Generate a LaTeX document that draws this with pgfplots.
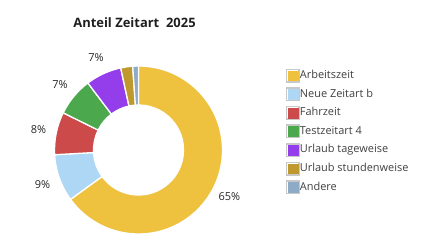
\documentclass[border=0pt]{standalone}
\usepackage{fontspec}
\setmainfont{Open Sans}
\usepackage{pgfplots}
\usepackage{pgfplotstable}
\pgfplotsset{compat=1.18}

\definecolor{c0}{HTML}{EEC13F}
\definecolor{c1}{HTML}{AED6F5}
\definecolor{c2}{HTML}{CC4A4A}
\definecolor{c3}{HTML}{4CA84C}
\definecolor{c4}{HTML}{943DEB}
\definecolor{c5}{HTML}{C0992E}
\definecolor{c6}{HTML}{8DAAC6}
\definecolor{legborder}{HTML}{C8C8C8}

% share of each kind of time, percent (clockwise from 12 o'clock)
\pgfplotstableread{
idx value
0 65.0
1 9.1
2 8.2
3 7.4
4 6.9
5 2.3
6 1.1
}\data

\def\cum{0}
\pgfplotsforeachungrouped \i in {0,...,6}{%
  \pgfplotstablegetelem{\i}{value}\of\data
  \let\v\pgfplotsretval
  \pgfmathsetmacro\s{90-3.6*\cum}%
  \pgfmathsetmacro\e{90-3.6*(\cum+\v)}%
  \pgfmathsetmacro\m{(\s+\e)/2}%
  \expandafter\xdef\csname aS\i\endcsname{\s}%
  \expandafter\xdef\csname aE\i\endcsname{\e}%
  \expandafter\xdef\csname aM\i\endcsname{\m}%
  \pgfmathparse{\v<5?1:0}%
  \ifnum\pgfmathresult=1
    \expandafter\gdef\csname lab\i\endcsname{}%
  \else
    \pgfmathtruncatemacro\tmp{round(\v)}%
    \expandafter\xdef\csname lab\i\endcsname{\tmp\noexpand\%}%
  \fi
  \pgfmathsetmacro\cum{\cum+\v}%
  \xdef\cum{\cum}%
}

\newcommand\legbox[1]{\addlegendimage{legend image code/.code={%
  \draw[draw=legborder, fill=white, line width=1.5bp] (0.75bp,-6.25bp) rectangle (13.25bp,6.25bp);
  \fill[#1] (2.1bp,-4.9bp) rectangle (11.9bp,4.9bp);}}}

\begin{document}
\begin{tikzpicture}
\path[use as bounding box] (0,0) rectangle (429bp,250bp);
\begin{axis}[
  at={(0,0)}, anchor=south west,
  scale only axis, x=1bp, y=1bp,
  xmin=0, xmax=429, ymin=0, ymax=250,
  hide axis, clip=false,
  legend style={at={(axis cs:282.7,183.5)}, anchor=north west, draw=none, fill=none,
    font=\fontsize{11}{13}\selectfont, text=black!75, row sep=4.6bp,
    nodes={inner sep=0pt, text height=8.5bp, text depth=2.8bp},
    /tikz/every even column/.append style={column sep=3.6bp}},
  legend cell align=left,
]
\pgfplotsinvokeforeach{0,...,6}{
  \filldraw[fill=c#1, draw=white, line width=1.3bp]
    ({138.5+84*cos(\csname aS#1\endcsname)},{100+84*sin(\csname aS#1\endcsname)})
    arc[start angle=\csname aS#1\endcsname, end angle=\csname aE#1\endcsname, radius=84bp]
    -- ({138.5+45*cos(\csname aE#1\endcsname)},{100+45*sin(\csname aE#1\endcsname)})
    arc[start angle=\csname aE#1\endcsname, end angle=\csname aS#1\endcsname, radius=45bp]
    -- cycle;
  \node[font=\fontsize{11}{13}\selectfont, text=black!85, inner sep=0pt]
    at ({138.5+102*cos(\csname aM#1\endcsname)},{100+102*sin(\csname aM#1\endcsname)})
    {\csname lab#1\endcsname};
}
\node[font=\bfseries\fontsize{13}{15}\selectfont, text=black!88] at (134.5,227.5) {Anteil Zeitart\ \ 2025};
\legbox{c0}\addlegendentry{Arbeitszeit}
\legbox{c1}\addlegendentry{Neue Zeitart b}
\legbox{c2}\addlegendentry{Fahrzeit}
\legbox{c3}\addlegendentry{Testzeitart 4}
\legbox{c4}\addlegendentry{Urlaub tageweise}
\legbox{c5}\addlegendentry{Urlaub stundenweise}
\legbox{c6}\addlegendentry{Andere}
\end{axis}
\end{tikzpicture}
\end{document}
